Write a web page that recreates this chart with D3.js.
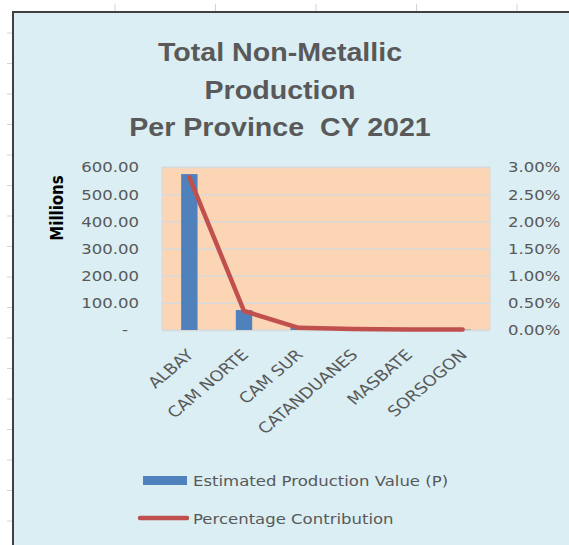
<!DOCTYPE html>
<html>
<head>
<meta charset="utf-8">
<script src="https://cdn.jsdelivr.net/npm/d3@7"></script>
<style>
  body{margin:0;background:#fff;}
  svg{display:block;}
</style>
</head>
<body>
<svg class="graph"></svg>
<script>
// data
let provinces=['ALBAY','CAM NORTE','CAM SUR','CATANDUANES','MASBATE','SORSOGON']
let productionValue=[574,73.5,9,4,2,1.5]          // millions of pesos
let percentContribution=[0.0281,0.0035,0.0004,0.0002,0.0001,0.0001]
let leftTicks=[0,100,200,300,400,500,600]
let rightTicks=[0,0.005,0.01,0.015,0.02,0.025,0.03]
let titleLines=['Total Non-Metallic','Production','Per Province  CY 2021']
let seriesNames=['Estimated Production Value (P)','Percentage Contribution']

let W=569,H=545
let plot={left:162,right:490,top:167,bottom:330}
let sx=1.18  // picture is stretched sideways a bit
let barColor='#4F81BD', lineColor='#C0504D', txt='#595959'

let svg=d3.select('.graph').attr('width',W).attr('height',H)

// sheet gridline stubs outside the chart
svg.selectAll('.vstub').data(d3.range(115,W,100.5)).join('line')
   .attr('x1',d=>d).attr('x2',d=>d).attr('y1',4).attr('y2',11)
   .attr('stroke','#d4d4d4')
svg.selectAll('.hstub').data(d3.range(33,H,30.5)).join('line')
   .attr('x1',7).attr('x2',12).attr('y1',d=>d).attr('y2',d=>d)
   .attr('stroke','#d4d4d4')

// chart area
svg.append('rect').attr('x',13).attr('y',12).attr('width',W-13).attr('height',H-12)
   .attr('fill','#DAEEF3')
svg.append('path').attr('d',`M13,${H}V12H${W}`).attr('fill','none')
   .attr('stroke','#404040').attr('stroke-width',2)

// title
svg.selectAll('.title').data(titleLines).join('text')
   .attr('transform',(d,i)=>`translate(280,${61+i*37.5}) scale(1.1,1)`)
   .attr('text-anchor','middle')
   .style('white-space','pre')
   .style('font-family','Liberation Sans, Arial, sans-serif')
   .style('font-weight','bold').style('font-size','26px')
   .attr('fill',txt).text(d=>d)

// scales
let x=d3.scaleBand().domain(provinces).range([plot.left,plot.right])
let y=d3.scaleLinear().domain([0,600]).range([plot.bottom,plot.top])
let y2=d3.scaleLinear().domain([0,0.03]).range([plot.bottom,plot.top])

svg.append('rect').attr('x',plot.left).attr('y',plot.top)
   .attr('width',plot.right-plot.left).attr('height',plot.bottom-plot.top)
   .attr('fill','#FCD5B5').attr('stroke','#d9d9d9')

// gridlines
svg.append('g').attr('transform',`translate(${plot.left},0)`)
   .call(d3.axisLeft(y).tickValues(leftTicks).tickSize(-(plot.right-plot.left)).tickFormat(''))
   .call(g=>g.select('.domain').remove())
   .call(g=>g.selectAll('line').attr('stroke','#d9d9d9').attr('stroke-width',1.5))

// bars
let bw=x.bandwidth()
svg.selectAll('.bar').data(provinces).join('rect')
   .attr('x',d=>x(d)+bw*0.35).attr('width',bw*0.3)
   .attr('y',(d,i)=>y(productionValue[i]))
   .attr('height',(d,i)=>y(0)-y(productionValue[i]))
   .attr('fill',barColor)

// line
let line=d3.line().x(d=>x(d.p)+bw/2).y(d=>y2(d.v))
svg.append('path')
   .datum(provinces.map((p,i)=>({p:p,v:percentContribution[i]})))
   .attr('d',line).attr('fill','none').attr('stroke',lineColor)
   .attr('stroke-width',4.5).attr('stroke-linecap','round').attr('stroke-linejoin','round')

// left axis
let axisFont=g=>g.selectAll('text')
   .style('font-family','DejaVu Sans, sans-serif').style('font-size','14px').attr('fill',txt)

let la=svg.append('g').attr('transform',`translate(${plot.left},0)`)
   .call(d3.axisLeft(y).tickValues(leftTicks).tickSize(0).tickPadding(0)
        .tickFormat(d=>d===0?'-':d3.format('.2f')(d)))
   .call(g=>g.select('.domain').remove())
   .call(axisFont)
la.selectAll('text').attr('x',null).attr('dy','0.35em')
  .attr('transform',d=>`translate(${d===0?-34:-23},0) scale(${sx},1)`)

let ra=svg.append('g').attr('transform',`translate(${plot.right},0)`)
   .call(d3.axisRight(y2).tickValues(rightTicks).tickSize(0).tickPadding(0)
        .tickFormat(d3.format('.2%')))
   .call(g=>g.select('.domain').remove())
   .call(axisFont)
ra.selectAll('text').attr('x',null).attr('dy','0.35em')
  .attr('transform',`translate(18,0) scale(${sx},1)`)

// x labels
svg.selectAll('.xlab').data(provinces).join('text')
   .attr('transform',d=>`translate(${x(d)+bw/2+1},352) scale(${sx},1) rotate(-45)`)
   .attr('text-anchor','end').attr('dy','0.35em')
   .style('font-family','DejaVu Sans, sans-serif').style('font-size','15px')
   .attr('fill',txt).text(d=>d)

// y title
svg.append('text')
   .attr('transform',`translate(57,208) scale(${sx},1) rotate(-90)`)
   .attr('text-anchor','middle').attr('dy','0.35em')
   .style('font-family','DejaVu Sans, sans-serif').style('font-weight','bold')
   .style('font-size','15px').attr('fill','#000').text('Millions')

// legend
let lg=svg.append('g')
lg.append('rect').attr('x',143).attr('y',476).attr('width',44).attr('height',9).attr('fill',barColor)
lg.append('line').attr('x1',140).attr('x2',187).attr('y1',518).attr('y2',518)
  .attr('stroke',lineColor).attr('stroke-width',4.5).attr('stroke-linecap','round')
lg.selectAll('.lt').data(seriesNames).join('text')
  .attr('transform',(d,i)=>`translate(193,${481+i*38}) scale(${sx},1)`)
  .attr('dy','0.35em')
  .style('font-family','DejaVu Sans, sans-serif').style('font-size','14px')
  .attr('fill',txt).text(d=>d)
</script>
</body>
</html>
